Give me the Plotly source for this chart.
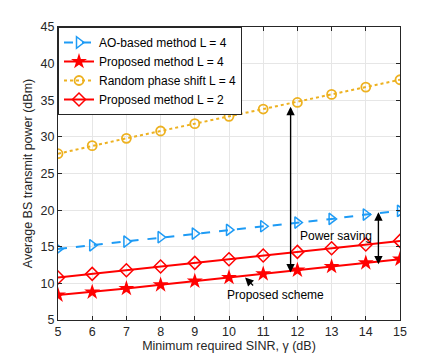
import plotly.graph_objects as go

sinr = [5, 6, 7, 8, 9, 10, 11, 12, 13, 14, 15]
ao_l4 = [14.7, 15.2, 15.7, 16.3, 16.8, 17.3, 17.8, 18.3, 18.8, 19.4, 19.9]
prop_l4 = [8.4, 8.8, 9.3, 9.8, 10.3, 10.8, 11.3, 11.8, 12.3, 12.8, 13.3]
rand_l4 = [27.7, 28.8, 29.8, 30.8, 31.8, 32.8, 33.8, 34.7, 35.8, 36.8, 37.8]
prop_l2 = [10.8, 11.3, 11.8, 12.3, 12.8, 13.3, 13.8, 14.3, 14.8, 15.3, 15.8]

FONT = "Liberation Sans, Arial, sans-serif"
BLUE = "#1e9bf5"
RED = "#ff0000"
GOLD = "#edb120"

fig = go.Figure()
fig.add_trace(go.Scatter(x=sinr, y=ao_l4, name="AO-based method L = 4", mode="lines+markers",
	line=dict(color=BLUE, width=2, dash="dash"),
	marker=dict(symbol="triangle-right-open", size=10, color=BLUE, line=dict(width=1.5))))
fig.add_trace(go.Scatter(x=sinr, y=prop_l4, name="Proposed method L = 4", mode="lines+markers",
	line=dict(color=RED, width=2),
	marker=dict(symbol="star", size=12, color=RED)))
fig.add_trace(go.Scatter(x=sinr, y=rand_l4, name="Random phase shift L = 4", mode="lines+markers",
	line=dict(color=GOLD, width=2, dash="dot"),
	marker=dict(symbol="circle-open", size=9, color=GOLD, line=dict(width=1.8))))
fig.add_trace(go.Scatter(x=sinr, y=prop_l2, name="Proposed method L = 2", mode="lines+markers",
	line=dict(color=RED, width=2),
	marker=dict(symbol="diamond-open", size=10, color=RED, line=dict(width=1.5))))

# double arrows for the power saving
for xa, ytop, ybot in [(11.8, 34.1, 11.5), (14.37, 19.7, 12.6)]:
	for yt, yf in [(ytop, ybot), (ybot, ytop)]:
		fig.add_annotation(x=xa, y=yt, ax=xa, ay=yf, xref="x", yref="y", axref="x", ayref="y",
			showarrow=True, arrowhead=2, arrowsize=1.4, arrowwidth=1.2, arrowcolor="black", text="")
fig.add_annotation(x=13.12, y=16.5, text="Power saving", showarrow=False,
	font=dict(family=FONT, size=12, color="black"))
fig.add_annotation(x=10.47, y=10.8, ax=10.75, ay=9.5, xref="x", yref="y", axref="x", ayref="y",
	showarrow=True, arrowhead=2, arrowsize=1.4, arrowwidth=1.2, arrowcolor="black", text="")
fig.add_annotation(x=11.35, y=8.4, text="Proposed scheme", showarrow=False,
	font=dict(family=FONT, size=12, color="black"))

axis_common = dict(showgrid=True, gridcolor="#e6e6e6", gridwidth=1, zeroline=False,
	showline=True, linecolor="#262626", linewidth=1, mirror="ticks", ticks="inside",
	ticklen=4, tickcolor="#262626", tickfont=dict(family=FONT, size=12.5, color="#262626"))

fig.update_xaxes(range=[5, 15], dtick=1, title=dict(text="Minimum required SINR, \u03b3 (dB)",
	font=dict(family=FONT, size=12.5, color="#262626"), standoff=3), **axis_common)
fig.update_yaxes(range=[5, 45], dtick=5, title=dict(text="Average BS transmit power (dBm)",
	font=dict(family=FONT, size=12.5, color="#262626"), standoff=5), **axis_common)

fig.update_layout(width=443, height=360, plot_bgcolor="white", paper_bgcolor="white",
	margin=dict(l=50, r=51, t=19, b=48),
	legend=dict(x=0, y=1, xanchor="left", yanchor="top", bgcolor="white",
		bordercolor="#262626", borderwidth=1, font=dict(family=FONT, size=12, color="black"),
		tracegroupgap=0, itemwidth=30))

fig.write_html("out.html")
